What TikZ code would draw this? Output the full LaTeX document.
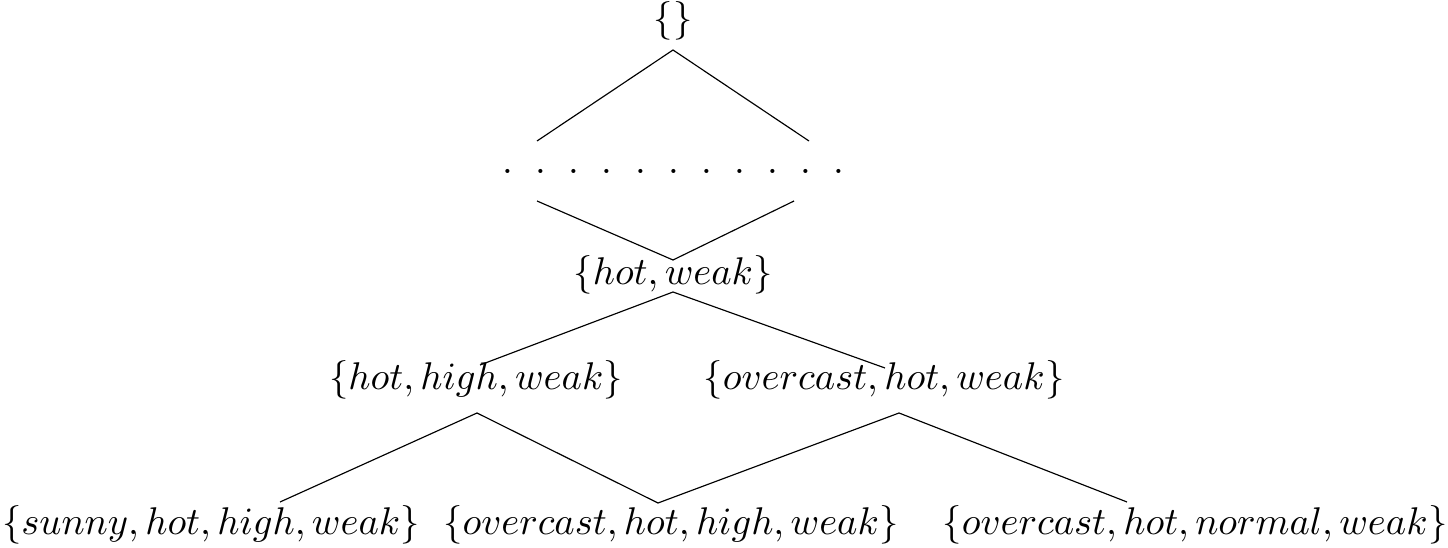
\documentclass[tikz,border=0pt]{standalone}
\begin{document}
\begin{tikzpicture}[x=0.259pt,y=-0.259pt,
  lab/.style={anchor=base,inner sep=0pt,outer sep=0pt},
  edge/.style={draw=black,line width=0.3pt}]
\useasboundingbox (0,0) rectangle (1448,548);
% nodes
\node[lab] (top) at (673,30.5) {$\{\}$};
\node[lab] (dots) at (673.5,174) {.\hskip5.79pt.\hskip5.79pt.\hskip5.79pt.\hskip5.79pt.\hskip5.79pt.\hskip5.79pt.\hskip5.79pt.\hskip5.79pt.\hskip5.79pt.\hskip5.79pt.};
\node[lab] (hw) at (673,285) {$\{hot, weak\}$};
\node[lab] (hhw) at (476,390) {$\{hot, high, weak\}$};
\node[lab] (ohw) at (884,390) {$\{overcast, hot, weak\}$};
\node[lab] (shhw) at (211,534) {$\{sunny, hot, high, weak\}$};
\node[lab] (ohhw) at (671,534) {$\{overcast, hot, high, weak\}$};
\node[lab] (ohnw) at (1195,534) {$\{overcast, hot, normal, weak\}$};
% connector ends
\coordinate (a0) at (673,50);
\coordinate (a1) at (537,141);
\coordinate (a2) at (809,141);
\coordinate (b1) at (537,201);
\coordinate (b2) at (794,201);
\coordinate (b0) at (673,260);
\coordinate (c0) at (673,292);
\coordinate (c1) at (480,365);
\coordinate (c2) at (885,368);
\coordinate (d0) at (477,413);
\coordinate (d1) at (280,502);
\coordinate (dm) at (658,503);
\coordinate (e0) at (899,413);
\coordinate (e2) at (1127,502);
% connectors
\draw[edge] (a1) -- (a0) -- (a2);
\draw[edge] (b1) -- (b0) -- (b2);
\draw[edge] (c1) -- (c0) -- (c2);
\draw[edge] (d1) -- (d0) -- (dm);
\draw[edge] (dm) -- (e0) -- (e2);
\end{tikzpicture}
\end{document}
